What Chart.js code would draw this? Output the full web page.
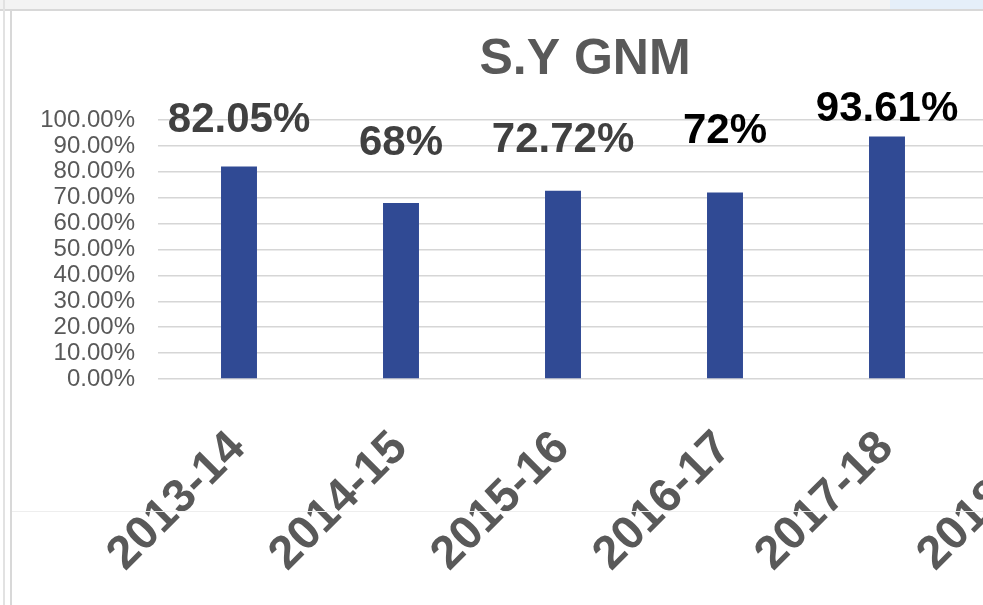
<!DOCTYPE html>
<html>
<head>
<meta charset="utf-8">
<script src="https://cdn.jsdelivr.net/npm/chart.js@4"></script>
<style>
  html, body { margin: 0; padding: 0; background: #fff; overflow: hidden; }
  body { width: 983px; height: 605px; position: relative; }
  .topbar { position: absolute; left: 0; top: 0; width: 983px; height: 9px; background: #f3f3f3; border-bottom: 2px solid #d8d8d8; }
  .topbar .blue { position: absolute; left: 890px; top: 0; width: 93px; height: 9px; background: #e5eff9; }
  .vline1 { position: absolute; left: 3px; top: 0; width: 2px; height: 605px; background: #e2e2e2; }
  .vline2 { position: absolute; left: 10px; top: 9px; width: 2px; height: 596px; background: #d8d8d8; }
  .hline { position: absolute; left: 12px; top: 511px; width: 971px; height: 1px; background: #eeeeee; z-index: 2; }
  #wrap { position: absolute; left: 12px; top: 11px; width: 1146px; height: 594px; }
</style>
</head>
<body>
<div class="topbar"><div class="blue"></div></div>
<div class="vline1"></div>
<div class="vline2"></div>
<div id="wrap"><canvas id="gnmChart"></canvas></div>
<div class="hline"></div>
<script>
// S.Y GNM results by academic year
const years = ['2013-14', '2014-15', '2015-16', '2016-17', '2017-18', '2018-19'];
const passRate = [82.05, 68, 72.72, 72, 93.61, null];
const yTicks = [0, 10, 20, 30, 40, 50, 60, 70, 80, 90, 100];

// Excel-style labels that were dragged by hand above each bar
const labelLift = [34, 48, 39, 50, 16];
const labelColors = ['#404040', '#404040', '#404040', '#000000', '#000000'];

const valueLabels = {
    id: 'valueLabels',
    afterDatasetsDraw(chart) {
        const ctx = chart.ctx;
        const meta = chart.getDatasetMeta(0);
        ctx.save();
        ctx.font = 'bold 42px "Liberation Sans", Arial, sans-serif';
        ctx.textAlign = 'center';
        ctx.textBaseline = 'alphabetic';
        meta.data.forEach((bar, i) => {
            const v = passRate[i];
            if (v === null || v === undefined) return;
            ctx.fillStyle = labelColors[i];
            ctx.fillText(v + '%', bar.x, bar.y - labelLift[i]);
        });
        ctx.restore();
    }
};

const gnmCtx = document.getElementById('gnmChart').getContext('2d');
new Chart(gnmCtx, {
    type: 'bar',
    data: {
        labels: years,
        datasets: [{
            label: 'S.Y GNM',
            data: passRate,
            backgroundColor: '#304a94',
            categoryPercentage: 1,
            barPercentage: 0.222
        }]
    },
    options: {
        responsive: true,
        maintainAspectRatio: false,
        animation: false,
        layout: {
            padding: { top: 0, right: 28, bottom: 0, left: 28 }
        },
        scales: {
            x: {
                grid: { display: false, drawTicks: false },
                border: { display: false },
                ticks: {
                    autoSkip: false,
                    minRotation: 45,
                    maxRotation: 45,
                    padding: 45,
                    labelOffset: -1,
                    color: '#595959',
                    font: { family: '"Liberation Sans", Arial, sans-serif', size: 47, weight: 'bold', lineHeight: 1 }
                },
                afterFit(scale) { scale.height = 226; }
            },
            y: {
                min: 0,
                max: 100,
                afterBuildTicks(scale) { scale.ticks = yTicks.map(v => ({ value: v })); },
                grid: { color: '#d6d6d6', lineWidth: 1.5, drawTicks: false },
                border: { display: false },
                ticks: {
                    autoSkip: false,
                    padding: 23,
                    color: '#595959',
                    font: { family: '"Liberation Sans", Arial, sans-serif', size: 24, lineHeight: 1 },
                    callback: v => v.toFixed(2) + '%'
                },
                afterFit(scale) { scale.width = 118; }
            }
        },
        plugins: {
            legend: { display: false },
            tooltip: { enabled: false },
            title: {
                display: true,
                text: 'S.Y GNM',
                color: '#595959',
                font: { family: '"Liberation Sans", Arial, sans-serif', size: 50, weight: 'bold', lineHeight: 1.2 },
                padding: { top: 19, bottom: 30 }
            }
        }
    },
    plugins: [valueLabels]
});
</script>
</body>
</html>
